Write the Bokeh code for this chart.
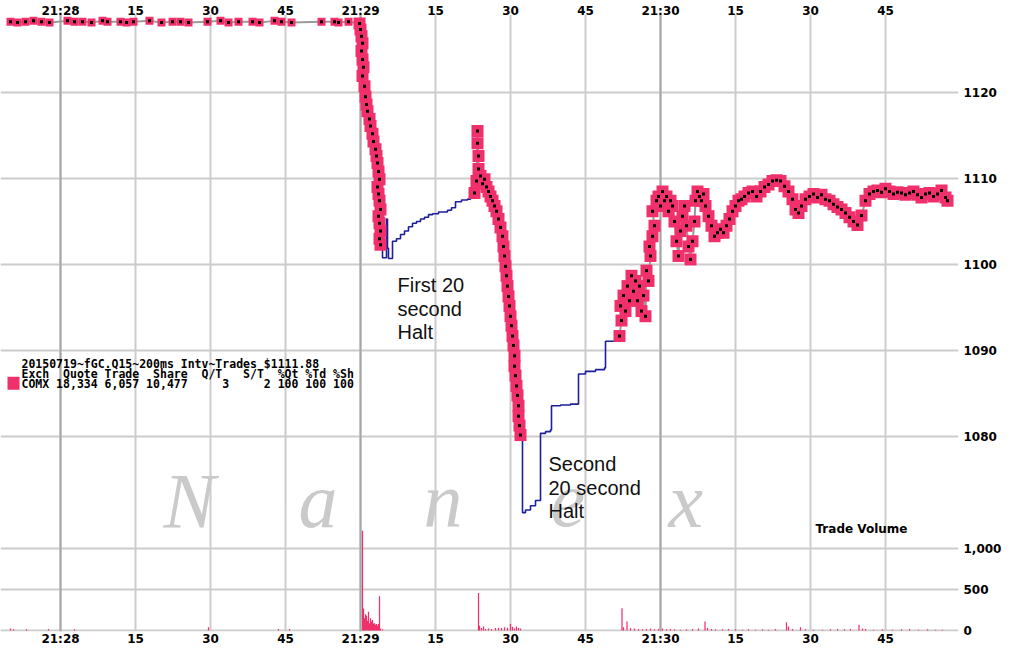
from bokeh.plotting import figure
from bokeh.models import Range1d, LinearAxis, FixedTicker, Grid, Label, BoxAnnotation
from bokeh.embed import file_html
from bokeh.resources import INLINE

# ---------------- data (time = seconds after 21:27:00) ----------------
tick_secs = [60, 75, 90, 105, 120, 135, 150, 165, 180, 195, 210, 225]
tick_labels = ["21:28", "15", "30", "45", "21:29", "15", "30", "45", "21:30", "15", "30", "45"]
price_ticks = [1080, 1090, 1100, 1110, 1120]
vol_ticks = [0, 500, 1000]
vol_tick_labels = ["0", "500", "1,000"]

# trades before the crash
pre_t = [50.0, 51.4, 53.0, 54.6, 56.2, 57.8, 61.4, 62.8, 64.4, 66.2,
         68.4, 69.4, 72.0, 73.2, 74.6, 77.8, 80.2, 82.4, 84.0, 85.6,
         89.4, 92.0, 93.6, 95.6, 98.4, 99.8, 102.8, 104.2, 106.2, 112.2,
         114.8, 115.6, 117.6]
pre_p = [1128.2, 1128.1, 1128.2, 1128.3, 1128.2, 1128.1, 1128.3, 1128.2, 1128.2, 1128.1,
         1128.3, 1128.2, 1128.2, 1128.1, 1128.2, 1128.3, 1128.1, 1128.2, 1128.2, 1128.1,
         1128.2, 1128.3, 1128.1, 1128.2, 1128.2, 1128.1, 1128.3, 1128.2, 1128.1, 1128.2,
         1128.2, 1128.1, 1128.2]
# crash trades
crash_t = [119.8, 120.0, 120.2, 120.4, 120.2, 120.4, 120.6, 120.4, 120.8, 121.0,
           121.2, 121.4, 121.8, 122.0, 122.4, 122.6, 123.0, 123.2, 123.4, 123.6,
           123.8, 123.4, 123.6, 123.8, 124.0, 123.6, 123.8, 124.0, 123.8, 124.0]
crash_p = [1128.0, 1127.3, 1126.5, 1125.7, 1124.8, 1123.8, 1122.9, 1121.9, 1120.7, 1119.5,
           1118.6, 1117.8, 1116.9, 1116.1, 1115.2, 1114.3, 1113.4, 1112.6, 1111.8, 1110.8,
           1109.9, 1109.0, 1108.2, 1107.4, 1106.4, 1105.6, 1104.8, 1103.9, 1103.0, 1102.3]
# trades between the two halts
mid_t = [142.8, 143.2, 143.4, 143.4, 143.6, 143.6, 144.0, 144.4, 144.8, 145.2,
         145.6, 146.0, 146.4, 146.8, 147.2, 147.6, 148.0, 148.4, 148.6, 148.8,
         149.0, 149.2, 149.4, 149.6, 149.8, 150.0, 150.2, 150.4, 150.6, 150.8,
         150.8, 151.0, 151.2, 151.4, 151.6, 151.6, 151.8, 152.0]
mid_p = [1108.3, 1109.7, 1115.5, 1114.1, 1112.6, 1111.1, 1110.3, 1109.4, 1109.9, 1109.0,
         1108.5, 1107.9, 1107.4, 1106.8, 1106.2, 1105.3, 1104.3, 1103.3, 1102.1, 1101.0,
         1099.8, 1098.7, 1097.5, 1096.3, 1095.2, 1094.0, 1092.9, 1091.7, 1090.6, 1089.4,
         1088.2, 1087.1, 1085.9, 1084.8, 1083.6, 1082.4, 1081.3, 1080.2]
# recovery trades
rec_t = [171.8, 172.2, 172.0, 172.6, 173.0, 173.4, 173.8, 174.2, 174.6, 175.0,
         175.4, 175.8, 176.2, 176.6, 177.0, 177.2, 177.6, 178.0, 177.8, 178.4,
         178.8, 178.4, 179.2, 179.6, 180.0, 180.4, 180.8, 181.2, 181.6, 182.0,
         182.4, 182.8, 183.2, 183.6, 184.0, 184.4, 184.8, 185.2, 185.6, 186.0,
         186.4, 186.8, 187.0, 187.4, 187.8, 188.2, 188.6, 189.0, 189.6, 190.2,
         190.8, 191.4, 192.0, 192.6, 193.2, 193.8, 194.4, 195.0, 195.6, 196.2,
         196.8, 197.6, 198.4, 199.2, 200.0, 200.8, 201.6, 202.4, 203.2, 204.0,
         204.8, 205.6, 206.4, 207.0, 207.6, 208.2, 209.0, 209.8, 210.6, 211.4,
         212.2, 213.0, 213.8, 214.6, 215.4, 216.2, 217.0, 217.8, 218.6, 219.4,
         220.2, 221.0, 221.8, 222.6, 223.4, 224.2, 225.0, 225.8, 226.6, 227.4,
         228.2, 229.0, 229.8, 230.6, 231.4, 232.2, 233.0, 233.8, 234.6, 235.4,
         236.2, 237.0, 237.4]
rec_p = [1091.7, 1093.5, 1095.2, 1096.4, 1094.6, 1097.5, 1095.8, 1098.7, 1096.9, 1098.1,
         1095.8, 1097.5, 1094.6, 1096.4, 1094.0, 1099.3, 1098.1, 1101.0, 1102.1, 1103.3,
         1104.5, 1106.2, 1107.4, 1107.9, 1106.8, 1108.5, 1107.4, 1107.9, 1106.2, 1107.4,
         1106.8, 1105.0, 1102.7, 1101.0, 1103.9, 1105.6, 1106.8, 1104.5, 1102.1, 1100.6,
         1102.7, 1105.0, 1107.4, 1108.5, 1107.9, 1107.4, 1108.2, 1106.8, 1105.6, 1104.5,
         1103.3, 1103.7, 1104.1, 1103.7, 1104.5, 1105.3, 1106.2, 1106.8, 1107.4, 1107.6,
         1107.9, 1108.3, 1108.5, 1107.9, 1108.5, 1109.0, 1109.3, 1109.7, 1109.8, 1109.7,
         1109.1, 1108.5, 1107.6, 1106.4, 1106.0, 1106.8, 1107.6, 1107.9, 1108.2, 1107.8,
         1108.1, 1107.6, 1107.4, 1107.0, 1106.7, 1106.4, 1106.0, 1105.5, 1105.0, 1104.6,
         1105.7, 1107.4, 1108.2, 1108.5, 1108.6, 1108.4, 1108.8, 1108.5, 1108.2, 1108.4,
         1108.3, 1108.1, 1108.3, 1108.5, 1108.1, 1107.8, 1108.2, 1108.3, 1107.9, 1108.2,
         1108.6, 1107.8, 1107.4]

# quotes during the halts
halt1_t = [124.0, 124.4, 125.2, 125.4, 125.6, 126.4, 127.2, 128.0, 128.8, 129.6,
           130.4, 131.2, 132.0, 132.8, 133.6, 134.4, 135.6, 137.4, 138.2, 139.0,
           140.2, 141.4, 142.0, 142.6]
halt1_p = [1102.3, 1100.8, 1105.3, 1101.9, 1100.7, 1102.7, 1103.0, 1103.5, 1103.9, 1104.4,
           1104.8, 1105.0, 1105.3, 1105.5, 1105.8, 1105.9, 1106.1, 1106.3, 1106.6, 1107.3,
           1107.5, 1107.6, 1108.0, 1108.3]
halt2_t = [152.0, 152.4, 153.0, 154.0, 155.0, 156.0, 157.0, 158.0, 158.2, 160.0,
           162.0, 163.4, 163.6, 165.0, 167.0, 168.8, 169.0, 171.6]
halt2_p = [1080.2, 1071.2, 1071.5, 1072.0, 1072.6, 1080.4, 1080.6, 1080.8, 1083.6, 1083.7,
           1083.8, 1083.8, 1087.3, 1087.6, 1087.8, 1088.0, 1091.1, 1091.1]

# trade volume
vol_t = [50.0, 50.6, 53.2, 57.6, 62.8, 89.6, 103.6, 105.8,
         120.4, 120.6, 120.8, 121.0, 121.2, 121.4, 121.6, 121.8, 122.0, 122.2,
         122.4, 122.6, 122.8, 123.0, 123.2, 123.4, 123.6, 123.8, 124.0, 124.4,
         143.6, 143.8, 144.2, 144.6, 145.0, 145.6, 146.2, 147.0, 147.6, 148.2,
         148.8, 149.4, 150.0, 150.4, 150.8, 151.2, 151.6, 152.0,
         172.3, 172.6, 173.3, 174.0, 174.8, 175.6, 176.4, 177.2, 178.0, 178.8,
         179.6, 180.4, 181.2, 182.0, 182.8, 184.0, 185.2, 186.4, 187.6, 188.9,
         189.4, 190.2, 191.0, 192.4, 193.6, 195.0, 196.4, 197.6, 199.0, 200.4,
         201.6, 203.0, 205.2, 205.6, 206.4, 208.0, 209.0, 210.6, 212.4, 214.0,
         215.4, 216.8, 218.0, 219.7, 220.4, 221.0, 222.6, 224.4, 226.4, 228.2,
         229.8, 231.6, 233.4, 235.0, 236.4]
vol_v = [25, 15, 15, 20, 15, 40, 20, 20,
         1220, 270, 150, 200, 180, 120, 230, 90, 150, 110,
         130, 85, 90, 70, 80, 60, 80, 420, 25, 15,
         460, 60, 30, 50, 20, 25, 20, 30, 35, 30,
         40, 35, 80, 45, 25, 50, 30, 25,
         272, 40, 110, 30, 25, 20, 15, 20, 25, 15,
         20, 25, 15, 20, 15, 10, 15, 20, 25, 110,
         30, 20, 15, 15, 20, 15, 10, 15, 10, 15,
         10, 20, 100, 50, 20, 40, 15, 10, 10, 15,
         20, 15, 20, 70, 25, 20, 10, 15, 10, 15,
         20, 10, 15, 10, 10]

legend_lines = ["20150719~fGC.Q15~200ms Intv~Trades $1111.88",
                "Exch  Quote Trade  Share  Q/T   S/T  %Qt %Td %Sh",
                "COMX 18,334 6,057 10,477     3     2 100 100 100"]

# ---------------- styling / layout ----------------
PINK = "#F0306A"
BLUE = "#1E1E9C"
GRID = "#CCCCCC"
GRID_DARK = "#A6A6A6"
AXFONT = "DejaVu Sans"
NBSP = "\u00a0"

P_LO, P_HI = 1057.39, 1129.04
VOL_BASE = 1057.5                 # price-axis position of volume 0
VOL_SCALE = (1067.0 - VOL_BASE) / 1000.0

p = figure(width=1020, height=649, output_backend="svg", toolbar_location=None,
           x_range=Range1d(48.0, 239.6), y_range=Range1d(P_LO, P_HI),
           y_axis_location="right",
           min_border_left=0, min_border_right=62, min_border_top=13, min_border_bottom=18)
p.outline_line_color = None
p.background_fill_color = "white"
p.border_fill_color = "white"
p.extra_y_ranges = {"vol": Range1d((P_LO - VOL_BASE) / VOL_SCALE, (P_HI - VOL_BASE) / VOL_SCALE)}

# top axis
top_axis = LinearAxis()
p.add_layout(top_axis, "above")

time_overrides = {t: lab for t, lab in zip(tick_secs, tick_labels)}
for ax in p.xaxis:
    ax.ticker = FixedTicker(ticks=tick_secs)
    ax.major_label_overrides = time_overrides

vol_pos = [VOL_BASE + v * VOL_SCALE for v in vol_ticks]
y_overrides = {pos: lab for pos, lab in zip(vol_pos, vol_tick_labels)}
for ax in p.yaxis:
    ax.ticker = FixedTicker(ticks=vol_pos + price_ticks)
    ax.major_label_overrides = y_overrides

for ax in list(p.xaxis) + list(p.yaxis):
    ax.axis_line_color = None
    ax.major_tick_line_color = None
    ax.minor_tick_line_color = None
    ax.major_tick_out = 0
    ax.major_tick_in = 0
    ax.major_label_text_font = AXFONT
    ax.major_label_text_font_style = "bold"
    ax.major_label_text_font_size = "12px"
    ax.major_label_text_color = "black"
    ax.major_label_standoff = 0
top_axis.major_label_standoff = -3
for ax in p.yaxis:
    ax.major_label_standoff = 5

p.xgrid.grid_line_color = GRID
p.xgrid.grid_line_width = 2
p.ygrid.grid_line_color = GRID
p.ygrid.grid_line_width = 2
minute_ticks = [t for t, lab in zip(tick_secs, tick_labels) if ":" in lab]
p.add_layout(Grid(dimension=0, ticker=FixedTicker(ticks=minute_ticks),
                  grid_line_color=GRID_DARK, grid_line_width=2))

# watermark
for ch, xt in zip(["N", "a", "n", "e", "x"], [80.6, 107.6, 132.6, 158.0, 181.6]):
    p.add_layout(Label(x=xt, y=1072.6, text=ch, text_font="Liberation Serif",
                       text_font_style="italic", text_font_size="78px",
                       text_color="#CACACA", text_baseline="alphabetic", level="underlay"))

# volume bars
p.vbar(x=vol_t, top=vol_v, bottom=0, width=0.25, y_range_name="vol",
       fill_color=PINK, line_color=None)

# quote lines during halts
p.step(halt1_t, halt1_p, mode="after", line_color=BLUE, line_width=1.6)
p.step(halt2_t, halt2_p, mode="after", line_color=BLUE, line_width=1.6)

# trade path (grey)
for tt, pp in [(pre_t + crash_t, pre_p + crash_p), (mid_t, mid_p), (rec_t, rec_p)]:
    p.line(tt, pp, line_color="#9A9A9A", line_width=2)

# trade markers
p.scatter(pre_t, pre_p, marker="square", size=8, fill_color=PINK, line_color=None)
act_t = crash_t + mid_t + rec_t
act_p = crash_p + mid_p + rec_p
p.scatter(act_t, act_p, marker="square", size=12, fill_color=PINK, line_color=None)
all_t = pre_t + act_t
all_p = pre_p + act_p
p.scatter(all_t, all_p, marker="square", size=3, fill_color="black", line_color=None)

# legend block
for line, yv in zip(legend_lines, [1088.41, 1087.30, 1086.14]):
    p.add_layout(Label(x=52.2, y=yv, text=line.replace(" ", NBSP), text_font="DejaVu Sans Mono",
                       text_font_style="bold", text_font_size="11.5px",
                       text_color="black", text_baseline="middle"))
p.add_layout(BoxAnnotation(left=49.4, right=51.8, bottom=1085.45, top=1086.96,
                           fill_color=PINK, fill_alpha=1.0, line_color=None))

# annotations
for txt, yv in zip(["First 20", "second", "Halt"], [1097.62, 1094.84, 1092.17]):
    p.add_layout(Label(x=127.4, y=yv, text=txt, text_font="Liberation Sans",
                       text_font_size="20px", text_color="#111111", text_baseline="middle"))
for txt, yv in zip(["Second", "20 second", "Halt"], [1076.87, 1074.09, 1071.42]):
    p.add_layout(Label(x=157.6, y=yv, text=txt, text_font="Liberation Sans",
                       text_font_size="20px", text_color="#111111", text_baseline="middle"))

p.add_layout(Label(x=211.0, y=1069.33, text="Trade Volume", text_font=AXFONT,
                   text_font_style="bold", text_font_size="12px", text_color="black",
                   text_baseline="middle"))

open("out.html", "w").write(file_html(p, INLINE))
